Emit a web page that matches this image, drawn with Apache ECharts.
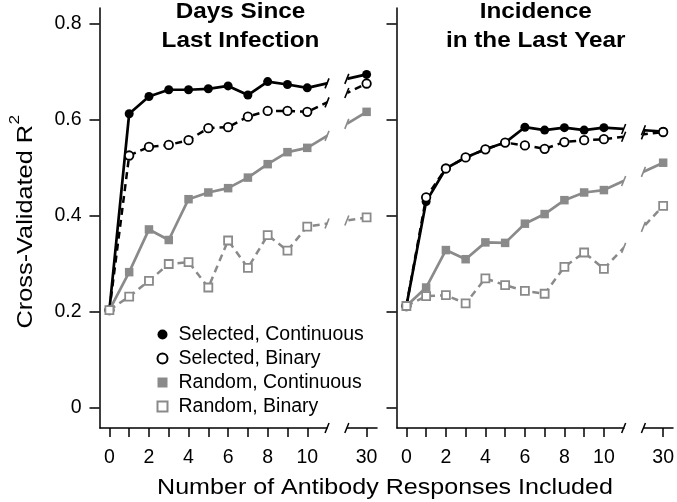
<!DOCTYPE html>
<html><head><meta charset="utf-8">
<script src="https://cdn.jsdelivr.net/npm/echarts@6/dist/echarts.min.js"></script>
<style>html,body{margin:0;padding:0;background:#fff}#c{width:677px;height:502px}</style>
</head><body><div id="c"></div>
<script>
// ---- data ----
const xValues = [0, 1, 2, 3, 4, 5, 6, 7, 8, 9, 10, 30];
const xTickValues = [0, 1, 2, 3, 4, 5, 6, 7, 8, 9, 10, 30];
const xLabelValues = [0, 2, 4, 6, 8, 10, 30];
const yTickValues = [0, 0.2, 0.4, 0.6, 0.8];
const seriesNames = ['Selected, Continuous', 'Selected, Binary', 'Random, Continuous', 'Random, Binary'];
const panelTitles = ['Days Since\nLast Infection', 'Incidence\nin the Last Year'];
const xAxisTitle = 'Number of Antibody Responses Included';
const yAxisTitle = 'Cross-Validated R';
const axisBreak = { start: 11, end: 29, gap: 1 };

const daysSelCont  = [0.204, 0.613, 0.649, 0.663, 0.663, 0.665, 0.671, 0.652, 0.680, 0.674, 0.667, 0.695];
const daysSelBin   = [0.204, 0.526, 0.544, 0.548, 0.558, 0.583, 0.585, 0.607, 0.619, 0.619, 0.617, 0.676];
const daysRandCont = [0.204, 0.283, 0.372, 0.350, 0.435, 0.449, 0.458, 0.480, 0.508, 0.533, 0.542, 0.617];
const daysRandBin  = [0.204, 0.232, 0.265, 0.300, 0.304, 0.251, 0.349, 0.292, 0.360, 0.328, 0.378, 0.397];

const incSelCont   = [0.2125, 0.430, 0.499, 0.522, 0.539, 0.553, 0.585, 0.579, 0.584, 0.579, 0.584, 0.576];
const incSelBin    = [0.2125, 0.439, 0.499, 0.522, 0.539, 0.553, 0.547, 0.540, 0.554, 0.558, 0.560, 0.575];
const incRandCont  = [0.2125, 0.251, 0.329, 0.310, 0.345, 0.344, 0.384, 0.404, 0.433, 0.449, 0.454, 0.511];
const incRandBin   = [0.2125, 0.233, 0.235, 0.218, 0.270, 0.256, 0.244, 0.238, 0.294, 0.324, 0.290, 0.421];

const panels = [
  [daysSelCont, daysSelBin, daysRandCont, daysRandBin],
  [incSelCont, incSelBin, incRandCont, incRandBin]
];

// ---- styles ----
const FONT = '"Liberation Sans", Arial, Helvetica, sans-serif';
const GREY = '#8a8a8a';
const styles = [
  { symbol: 'circle', symbolSize: 9, lineStyle: { color: '#000', width: 2.7, type: 'solid' }, itemStyle: { color: '#000' } },
  { symbol: 'circle', symbolSize: 8.5, lineStyle: { color: '#000', width: 2.5, type: [7, 5] }, itemStyle: { color: '#fff', borderColor: '#000', borderWidth: 1.8 } },
  { symbol: 'rect', symbolSize: 8.5, lineStyle: { color: GREY, width: 2.7, type: 'solid' }, itemStyle: { color: GREY } },
  { symbol: 'rect', symbolSize: 8, lineStyle: { color: GREY, width: 2.5, type: [7, 5] }, itemStyle: { color: '#fff', borderColor: GREY, borderWidth: 1.8 } }
];

const grids = [
  { left: 99.5, top: 8, width: 277, height: 420 },
  { left: 396.5, top: 8, width: 277.5, height: 420 }
];

const xAxes = grids.map((g, i) => ({
  type: 'value', gridIndex: i, min: -0.5, max: 30.5,
  breaks: [Object.assign({}, axisBreak)],
  breakArea: {
    show: true, expandOnClick: false, zigzagAmplitude: 0, zigzagZ: 100,
    itemStyle: { color: '#fff', borderColor: '#fff', borderWidth: 0, opacity: 1 }
  },
  axisLine: { show: true, onZero: false, lineStyle: { color: '#000', width: 1.5 } },
  axisTick: { show: true, customValues: xTickValues, length: 9, lineStyle: { color: '#000', width: 1.5 } },
  axisLabel: { show: true, customValues: xLabelValues, margin: 20, color: '#000', fontSize: 19.5, fontFamily: FONT },
  splitLine: { show: false }
}));

const yAxes = grids.map((g, i) => ({
  type: 'value', gridIndex: i, min: -1 / 24, max: 5 / 6,
  axisLine: { show: true, onZero: false, lineStyle: { color: '#000', width: 1.5 } },
  axisTick: { show: true, customValues: yTickValues, length: 10, lineStyle: { color: '#000', width: 1.5 } },
  axisLabel: { show: i === 0, customValues: yTickValues, margin: 18, color: '#000', fontSize: 19.5, fontFamily: FONT,
    formatter: v => (Math.abs(v) < 1e-9 ? '0' : v.toFixed(1)) },
  splitLine: { show: false }
}));

const series = [];
panels.forEach((vals, gi) => {
  vals.forEach((arr, si) => {
    series.push(Object.assign({
      type: 'line', name: seriesNames[si], xAxisIndex: gi, yAxisIndex: gi,
      data: xValues.map((x, k) => [x, arr[k]]),
      showSymbol: true, showAllSymbol: true, animation: false, z: 2 + si,
      emphasis: { disabled: true }
    }, JSON.parse(JSON.stringify(styles[si]))));
  });
});

const TOPZ = 300;
const titleCenters = [240.5, 535.7];
const graphic = [];
panelTitles.forEach((t, i) => {
  t.split('\n').forEach((ln, j) => {
    graphic.push({
      type: 'text', x: titleCenters[i], y: 12 + j * 29.5, scaleX: 1.13, z: TOPZ,
      style: { text: ln, fontFamily: FONT, fontWeight: 'bold', fontSize: 21.5, fill: '#000', align: 'center', verticalAlign: 'middle' }
    });
  });
});
graphic.push({
  type: 'text', x: 385, y: 488, scaleX: 1.14, z: TOPZ,
  style: { text: xAxisTitle, fontFamily: FONT, fontSize: 22, fill: '#000', align: 'center', verticalAlign: 'middle' }
});
graphic.push({
  type: 'group', x: 25.5, y: 125, rotation: Math.PI / 2, scaleX: 1.15, z: TOPZ,
  children: [
    { type: 'text', x: 0, y: 0, z: TOPZ, style: { text: yAxisTitle, fontFamily: FONT, fontSize: 22, fill: '#000', align: 'right', verticalAlign: 'middle' } },
    { type: 'text', x: 0.5, y: -11, z: TOPZ, style: { text: '2', fontFamily: FONT, fontSize: 15, fill: '#000', align: 'left', verticalAlign: 'middle' } }
  ]
});

const chart = echarts.init(document.getElementById('c'), null, { renderer: 'canvas' });
const baseOption = {
  animation: false,
  backgroundColor: '#fff',
  grid: grids,
  xAxis: xAxes,
  yAxis: yAxes,
  legend: {
    orient: 'vertical', left: 151.5, top: 319.5, itemWidth: 10, itemHeight: 10, itemGap: 4, z: TOPZ,
    selectedMode: false,
    data: seriesNames.map((n, i) => ({ name: n, icon: styles[i].symbol })),
    textStyle: { fontFamily: FONT, fontSize: 19.5, color: '#000', lineHeight: 20, padding: [0, 0, 0, 6] }
  },
  series: series,
  graphic: graphic
};
chart.setOption(baseOption);

// break marks ("/") at the gap edges, positioned through the chart's own coordinate conversion
const marks = [];
function slash(x, y, color, w) {
  marks.push({
    type: 'line', z: TOPZ, silent: true,
    shape: { x1: x - 2, y1: y + 5, x2: x + 2, y2: y - 5 },
    style: { stroke: color, lineWidth: w }
  });
}
panels.forEach((vals, gi) => {
  const finder = { gridIndex: gi };
  const bx1 = chart.convertToPixel(finder, [axisBreak.start, 0])[0];
  const bx2 = chart.convertToPixel(finder, [axisBreak.end, 0])[0];
  const axisY = chart.convertToPixel(finder, [0, -1 / 24])[1];
  slash(bx1, axisY, '#000', 1.5);
  slash(bx2, axisY, '#000', 1.5);
  vals.forEach((arr, si) => {
    const n = xValues.length;
    const pa = chart.convertToPixel(finder, [xValues[n - 2], arr[n - 2]]);
    const pb = chart.convertToPixel(finder, [xValues[n - 1], arr[n - 1]]);
    const col = styles[si].lineStyle.color;
    [bx1, bx2].forEach(bx => {
      const t = (bx - pa[0]) / (pb[0] - pa[0]);
      slash(bx, pa[1] + t * (pb[1] - pa[1]), col, 1.6);
    });
  });
});
chart.setOption({ graphic: graphic.concat(marks) });
</script>
</body></html>
